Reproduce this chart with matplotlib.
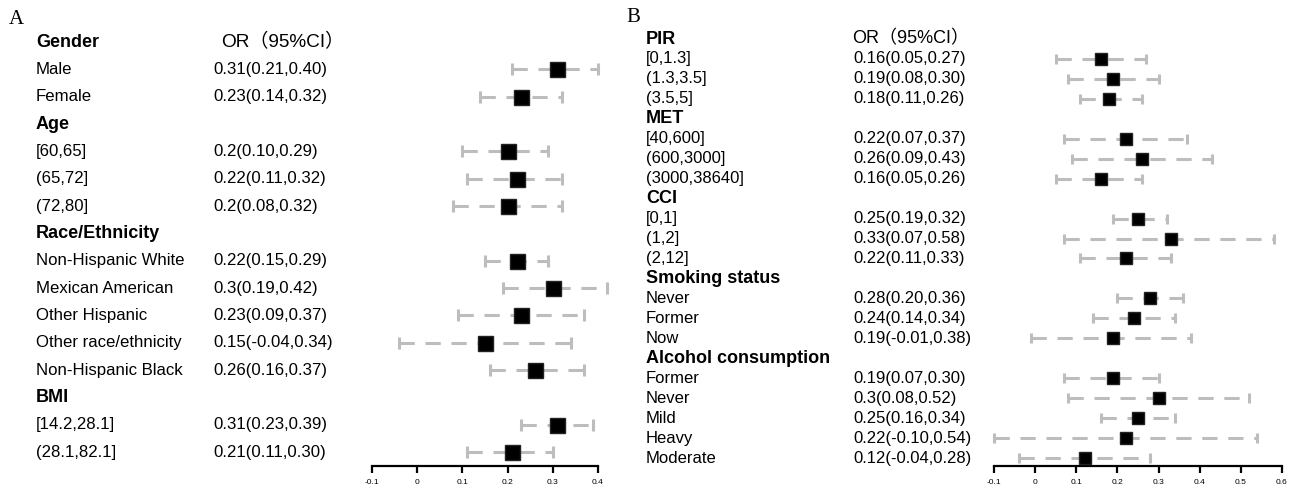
import matplotlib.pyplot as plt
from matplotlib.transforms import blended_transform_factory

plt.rcParams['font.family'] = ['Liberation Sans', 'Noto Sans CJK SC', 'DejaVu Sans']

# ---- panel A data (None = group header row)
a_labels = ["Gender", "Male", "Female", "Age", "[60,65]", "(65,72]", "(72,80]",
            "Race/Ethnicity", "Non-Hispanic White", "Mexican American", "Other Hispanic",
            "Other race/ethnicity", "Non-Hispanic Black", "BMI", "[14.2,28.1]", "(28.1,82.1]"]
a_or = [None, 0.31, 0.23, None, 0.20, 0.22, 0.20,
        None, 0.22, 0.30, 0.23, 0.15, 0.26, None, 0.31, 0.21]
a_lo = [None, 0.21, 0.14, None, 0.10, 0.11, 0.08,
        None, 0.15, 0.19, 0.09, -0.04, 0.16, None, 0.23, 0.11]
a_hi = [None, 0.40, 0.32, None, 0.29, 0.32, 0.32,
        None, 0.29, 0.42, 0.37, 0.34, 0.37, None, 0.39, 0.30]
a_text = ["OR（95%CI）", "0.31(0.21,0.40)", "0.23(0.14,0.32)", "", "0.2(0.10,0.29)",
          "0.22(0.11,0.32)", "0.2(0.08,0.32)", "", "0.22(0.15,0.29)", "0.3(0.19,0.42)",
          "0.23(0.09,0.37)", "0.15(-0.04,0.34)", "0.26(0.16,0.37)", "",
          "0.31(0.23,0.39)", "0.21(0.11,0.30)"]
a_ticks = [-0.1, 0, 0.1, 0.2, 0.3, 0.4]

# ---- panel B data
b_labels = ["PIR", "[0,1.3]", "(1.3,3.5]", "(3.5,5]", "MET", "[40,600]", "(600,3000]",
            "(3000,38640]", "CCI", "[0,1]", "(1,2]", "(2,12]", "Smoking status", "Never",
            "Former", "Now", "Alcohol consumption", "Former", "Never", "Mild", "Heavy",
            "Moderate"]
b_or = [None, 0.16, 0.19, 0.18, None, 0.22, 0.26, 0.16, None, 0.25, 0.33, 0.22,
        None, 0.28, 0.24, 0.19, None, 0.19, 0.30, 0.25, 0.22, 0.12]
b_lo = [None, 0.05, 0.08, 0.11, None, 0.07, 0.09, 0.05, None, 0.19, 0.07, 0.11,
        None, 0.20, 0.14, -0.01, None, 0.07, 0.08, 0.16, -0.10, -0.04]
b_hi = [None, 0.27, 0.30, 0.26, None, 0.37, 0.43, 0.26, None, 0.32, 0.58, 0.33,
        None, 0.36, 0.34, 0.38, None, 0.30, 0.52, 0.34, 0.54, 0.28]
b_text = ["OR（95%CI）", "0.16(0.05,0.27)", "0.19(0.08,0.30)", "0.18(0.11,0.26)", "",
          "0.22(0.07,0.37)", "0.26(0.09,0.43)", "0.16(0.05,0.26)", "",
          "0.25(0.19,0.32)", "0.33(0.07,0.58)", "0.22(0.11,0.33)", "",
          "0.28(0.20,0.36)", "0.24(0.14,0.34)", "0.19(-0.01,0.38)", "",
          "0.19(0.07,0.30)", "0.3(0.08,0.52)", "0.25(0.16,0.34)", "0.22(-0.10,0.54)",
          "0.12(-0.04,0.28)"]
b_ticks = [-0.1, 0, 0.1, 0.2, 0.3, 0.4, 0.5, 0.6]

W, H = 1301, 491
fig = plt.figure(figsize=(W / 100, H / 100), dpi=100)


def panel(x0, x1, xlim, ylim, labels, ors, los, his, texts, ticks,
          lab_x, txt_x, hdr_x, fs, hfs, ofs, msize, cap, letter, letter_xy):
    ax = fig.add_axes([x0 / W, 1 - 466 / H, (x1 - x0) / W, 466 / H])
    ax.set_xlim(*xlim)
    ax.set_ylim(*ylim)
    for s in ["top", "right", "left"]:
        ax.spines[s].set_visible(False)
    ax.spines["bottom"].set_linewidth(1.6)
    ax.set_yticks([])
    ax.set_xticks(ticks)
    ax.set_xticklabels([f"{t:g}" for t in ticks])
    ax.tick_params(axis="x", length=5, width=1.6, labelsize=6, pad=4)

    tr = blended_transform_factory(fig.transFigure, ax.transData)
    for i, lab in enumerate(labels):
        head = ors[i] is None
        ax.text(lab_x / W, i, lab, transform=tr, ha="left", va="center",
                fontsize=hfs if head else fs, fontweight="bold" if head else "normal")
        if i == 0:
            ax.text(hdr_x / W, i, texts[i], transform=tr, ha="left", va="center",
                    fontsize=ofs)
        elif texts[i]:
            ax.text(txt_x / W, i, texts[i], transform=tr, ha="left", va="center",
                    fontsize=fs)
        if head:
            continue
        ax.plot([los[i], his[i]], [i, i], color="#bdbdbd", lw=2.2,
                linestyle=(0, (5, 3.5)), solid_capstyle="butt", clip_on=False, zorder=2)
        ax.plot([los[i], his[i]], [i, i], ls="none", marker="|", ms=cap, mew=2.2,
                color="#bdbdbd", clip_on=False, zorder=2)
        ax.plot(ors[i], i, marker="s", ms=msize, color="black", mec="#222222",
                clip_on=False, zorder=3)
    fig.text(letter_xy[0] / W, 1 - letter_xy[1] / H, letter, family="Liberation Serif",
             fontsize=15, ha="left", va="center")


panel(372, 598, (-0.1, 0.4), (15.512, -1.537), a_labels, a_or, a_lo, a_hi, a_text,
      a_ticks, 36, 213, 221, 12.1, 13, 13.7, 10.8, 9, "A", (9, 20))
panel(994, 1282, (-0.1, 0.6), (21.40, -1.955), b_labels, b_or, b_lo, b_hi, b_text,
      b_ticks, 646, 853, 852, 12, 13, 13, 8.4, 7.5, "B", (626, 18))

fig.savefig("out.png", dpi=100)
